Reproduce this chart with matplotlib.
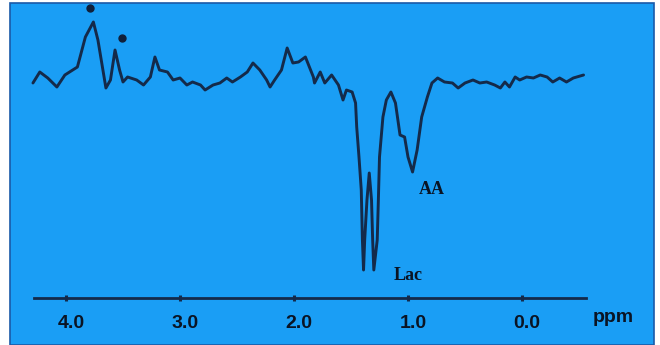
import matplotlib as mpl
mpl.use('Agg')
import matplotlib.pyplot as plt
import matplotlib.transforms as mtrans
from matplotlib.patches import Rectangle

# spectrum (ppm, signal height above the axis line)
ppm = [4.29, 4.23, 4.16, 4.08, 4.01, 3.90, 3.83, 3.76, 3.72, 3.65, 3.61, 3.57,
       3.53, 3.50, 3.46, 3.38, 3.32, 3.26, 3.22, 3.18, 3.11, 3.06, 3.00, 2.94,
       2.89, 2.82, 2.78, 2.71, 2.65, 2.59, 2.54, 2.47, 2.41, 2.36, 2.30, 2.24,
       2.21, 2.17, 2.11, 2.06, 2.01, 1.96, 1.90, 1.83, 1.82, 1.77, 1.73, 1.67,
       1.61, 1.57, 1.54, 1.49, 1.46, 1.45, 1.43, 1.41, 1.40, 1.39, 1.38, 1.36,
       1.34, 1.32, 1.31, 1.30, 1.27, 1.26, 1.25, 1.22, 1.19, 1.15, 1.11, 1.07,
       1.03, 1.00, 0.96, 0.92, 0.88, 0.83, 0.79, 0.74, 0.68, 0.61, 0.56, 0.50,
       0.43, 0.37, 0.31, 0.24, 0.19, 0.15, 0.11, 0.06, 0.02, -0.04, -0.10,
       -0.16, -0.22, -0.27, -0.33, -0.39, -0.45, -0.54]
signal = [215, 226, 220, 211, 223, 231, 261, 276, 258, 210, 218, 248,
          228, 216, 221, 218, 213, 221, 241, 228, 226, 218, 220, 213,
          216, 213, 208, 213, 215, 220, 216, 221, 226, 235, 228, 218,
          211, 218, 228, 250, 235, 236, 241, 221, 215, 226, 215, 223,
          213, 198, 208, 206, 195, 171, 141, 108, 58, 28, 58, 98,
          125, 98, 58, 28, 58, 98, 141, 181, 198, 206, 195, 163,
          161, 141, 126, 148, 181, 201, 215, 220, 216, 215, 210, 215,
          218, 215, 216, 213, 210, 216, 211, 221, 218, 221, 220,
          223, 221, 216, 220, 216, 220, 223]

tick_ppm = [4.0, 3.0, 2.0, 1.0, 0.0]
tick_labels = ['4.0', '3.0', '2.0', '1.0', '0.0']
star_ppm = [3.79, 3.51]
star_height = [290, 260]
peak_labels = ['AA', 'Lac']
peak_ppm = [0.79, 1.00]
peak_height = [108, 23]

bg = '#1a9ef5'
ink = '#142a4a'
txt = '#0a1424'

fig = plt.figure(figsize=(6.6, 3.45), dpi=100)
fig.patch.set_facecolor('white')
fig.patches.append(Rectangle((10/660, 0), 644/660, 1 - 3/345, transform=fig.transFigure,
                             facecolor=bg, edgecolor='#1a5aa8', lw=1.2, zorder=0))

ax = fig.add_axes([0, 0, 1, 1])
ax.set_zorder(2)
ax.patch.set_alpha(0)
ax.set_xlim(4.579, -1.2105)
ax.set_ylim(-47, 298)
ax.axis('off')

ax.plot(ppm, signal, color=ink, lw=2.1, solid_joinstyle='round', solid_capstyle='round')
ax.plot(star_ppm, star_height, 'o', color='#10203a', ms=5)

# baseline axis with ticks
ax.plot([4.28, -0.56], [0, 0], color=ink, lw=2)
ax.plot(tick_ppm, [0]*len(tick_ppm), '|', color=ink, ms=5, mew=2.2)
shift = mtrans.ScaledTranslation(5/100, 0, fig.dpi_scale_trans)
for t, lab in zip(tick_ppm, tick_labels):
    ax.text(t, -25, lab, ha='center', va='center', fontsize=14, fontweight='heavy',
            family='Liberation Sans', color=txt, transform=ax.transData + shift)
ax.text(-0.8, -20, 'ppm', ha='center', va='center', fontsize=14, fontweight='heavy',
        family='Liberation Sans', color=txt)

for lab, x, y in zip(peak_labels, peak_ppm, peak_height):
    ax.text(x, y, lab, ha='center', va='center', fontsize=13, fontweight='heavy',
            family='Liberation Serif', color=txt)

fig.savefig('out.png', dpi=100)
